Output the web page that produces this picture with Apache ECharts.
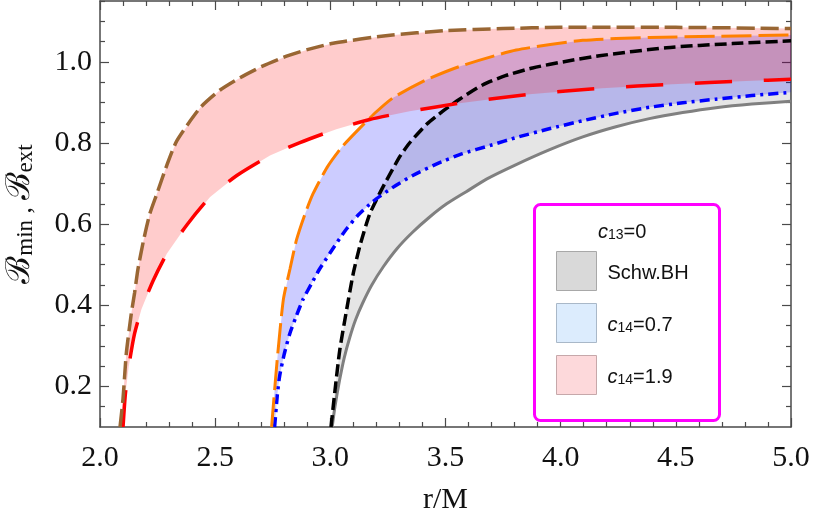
<!DOCTYPE html>
<html>
<head>
<meta charset="utf-8">
<script src="https://cdn.jsdelivr.net/npm/echarts@6/dist/echarts.min.js"></script>
<style>
  html, body { margin: 0; padding: 0; background: #fff; }
  #main { width: 814px; height: 529px; }
</style>
</head>
<body>
<div id="main"></div>
<script>
// curves, [r/M, B]
const schwUpper = [
  [3.003, 0.10], [3.019, 0.184], [3.041, 0.29], [3.071, 0.39], [3.10, 0.48], [3.13, 0.55],
  [3.171, 0.625], [3.227, 0.69], [3.30, 0.765], [3.344, 0.80], [3.418, 0.846], [3.487, 0.878],
  [3.561, 0.908], [3.661, 0.943], [3.76, 0.966], [3.878, 0.985], [4.02, 1.001], [4.168, 1.015],
  [4.459, 1.035], [4.745, 1.045], [5.0, 1.052]
];
const schwLower = [
  [3.008, 0.10], [3.02, 0.15], [3.04, 0.215], [3.06, 0.27], [3.084, 0.32], [3.11, 0.365],
  [3.14, 0.405], [3.18, 0.45], [3.23, 0.495], [3.29, 0.54], [3.357, 0.58], [3.43, 0.617],
  [3.505, 0.65], [3.59, 0.68], [3.678, 0.711], [3.80, 0.745], [3.95, 0.783], [4.096, 0.815],
  [4.24, 0.84], [4.385, 0.86], [4.53, 0.875], [4.674, 0.887], [4.83, 0.896], [5.0, 0.903]
];
const c07Upper = [
  [2.745, 0.10], [2.755, 0.17], [2.77, 0.27], [2.796, 0.414], [2.825, 0.49], [2.853, 0.561],
  [2.89, 0.625], [2.925, 0.675], [2.986, 0.74], [3.05, 0.79], [3.13, 0.838], [3.20, 0.877],
  [3.274, 0.912], [3.418, 0.956], [3.563, 0.989], [3.807, 1.029], [4.096, 1.053], [4.385, 1.06],
  [4.674, 1.063], [5.0, 1.066]
];
const c07Lower = [
  [2.758, 0.10], [2.77, 0.18], [2.78, 0.226], [2.80, 0.28], [2.824, 0.33], [2.85, 0.37],
  [2.881, 0.414], [2.92, 0.455], [2.954, 0.49], [3.0, 0.53], [3.041, 0.565], [3.07, 0.588],
  [3.12, 0.622], [3.185, 0.656], [3.27, 0.69], [3.358, 0.72], [3.46, 0.748], [3.57, 0.773],
  [3.70, 0.795], [3.81, 0.814], [3.95, 0.835], [4.096, 0.855], [4.24, 0.873], [4.385, 0.888],
  [4.53, 0.899], [4.674, 0.908], [4.83, 0.917], [5.0, 0.925]
];
const c19Upper = [
  [2.087, 0.10], [2.10, 0.17], [2.114, 0.28], [2.136, 0.38], [2.15, 0.43], [2.165, 0.49],
  [2.189, 0.56], [2.216, 0.625], [2.247, 0.675], [2.29, 0.745], [2.334, 0.806], [2.435, 0.887],
  [2.52, 0.93], [2.608, 0.961], [2.70, 0.988], [2.81, 1.014], [2.90, 1.03], [3.012, 1.046],
  [3.25, 1.065], [3.50, 1.077], [3.75, 1.082], [4.0, 1.085], [4.5, 1.085], [5.0, 1.082]
];
const c19Lower = [
  [2.10, 0.10], [2.11, 0.18], [2.125, 0.25], [2.15, 0.33], [2.18, 0.39], [2.23, 0.46],
  [2.29, 0.527], [2.377, 0.598], [2.478, 0.667], [2.594, 0.72], [2.738, 0.769], [2.868, 0.801],
  [3.026, 0.834], [3.171, 0.858], [3.344, 0.878], [3.561, 0.898], [3.865, 0.92], [4.18, 0.935],
  [4.485, 0.945], [4.806, 0.953], [5.0, 0.957]
];
const yMajorTicks = [0.2, 0.4, 0.6, 0.8, 1.0];
const yMinorTicks = [0.15, 0.25, 0.3, 0.35, 0.45, 0.5, 0.55, 0.65, 0.7, 0.75, 0.85, 0.9, 0.95, 1.05, 1.1, 1.15];
const legendNames = ["Schw.BH", "c14=0.7", "c14=1.9"];

const frame = "#4a4a4a";
const serif = "Liberation Serif";
const sans = "Liberation Sans";

function band(name, upper, lower, fill) {
  const poly = upper.concat(lower.slice().reverse());
  return {
    name: name,
    type: "custom",
    clip: true,
    silent: true,
    z: 1,
    data: poly,
    renderItem: function (params, api) {
      if (params.dataIndex !== 0) return null;
      return {
        type: "polygon",
        shape: { points: poly.map(p => api.coord(p)) },
        style: { fill: fill }
      };
    }
  };
}

function curve(data, color, dash, width) {
  return {
    type: "line",
    data: data,
    showSymbol: false,
    symbol: "none",
    smooth: 0.2,
    silent: true,
    clip: true,
    z: 3,
    lineStyle: { color: color, width: width, type: dash }
  };
}

function yAx(position, ticks, len, withLabels) {
  return {
    type: "value",
    min: 0.1,
    max: 1.15,
    position: position,
    axisLine: { show: withLabels !== null, onZero: false, lineStyle: { color: frame, width: 1.5 } },
    axisTick: { inside: true, length: len, customValues: ticks, lineStyle: { color: frame, width: 1.2 } },
    axisLabel: withLabels ? {
      customValues: ticks,
      fontFamily: serif,
      fontSize: 30,
      color: "#111",
      margin: 8,
      formatter: v => v.toFixed(1)
    } : { show: false },
    splitLine: { show: false }
  };
}

function xAx(position, withLabels) {
  return {
    type: "value",
    min: 2,
    max: 5,
    interval: 0.5,
    position: position,
    axisLine: { onZero: false, lineStyle: { color: frame, width: 1.5 } },
    axisTick: { inside: true, length: 9, lineStyle: { color: frame, width: 1.2 } },
    minorTick: { show: true, splitNumber: 5, length: 5, lineStyle: { color: frame, width: 1.2 } },
    axisLabel: withLabels ? {
      fontFamily: serif,
      fontSize: 30,
      color: "#111",
      margin: 16,
      formatter: v => v.toFixed(1)
    } : { show: false },
    splitLine: { show: false }
  };
}

const chart = echarts.init(document.getElementById("main"));

const xBottom = xAx("bottom", true);
xBottom.name = "r/M";
xBottom.nameLocation = "middle";
xBottom.nameGap = 58;
xBottom.nameTextStyle = { fontFamily: serif, fontSize: 30, color: "#111" };

const yLeft = yAx("left", yMajorTicks, 9, true);
yLeft.name = "{b|\u212C}{s|min}{t| , }{b|\u212C}{s|ext}";
yLeft.nameLocation = "middle";
yLeft.nameRotate = 90;
yLeft.nameGap = 63;
yLeft.nameTextStyle = {
  color: "#111",
  rich: {
    b: { fontFamily: "DejaVu Serif", fontSize: 33, lineHeight: 40, verticalAlign: "bottom", color: "#111" },
    s: { fontFamily: serif, fontSize: 23, lineHeight: 24, verticalAlign: "bottom", color: "#111" },
    t: { fontFamily: serif, fontSize: 26, lineHeight: 40, verticalAlign: "bottom", color: "#111" }
  }
};

const option = {
  backgroundColor: "#fff",
  animation: false,
  grid: { left: 100, right: 23, top: 1, bottom: 102, outerBoundsMode: "none" },
  xAxis: [xBottom, xAx("top", false)],
  yAxis: [
    yLeft,
    yAx("left", yMinorTicks, 5, null),
    yAx("right", yMajorTicks, 9, false),
    yAx("right", yMinorTicks, 5, null)
  ],
  legend: {
    data: [
      { name: legendNames[0], itemStyle: { color: "#d9d9d9", borderColor: "#a8a8a8", borderWidth: 1 } },
      { name: legendNames[1], itemStyle: { color: "#dcecfd", borderColor: "#a9b8c8", borderWidth: 1 } },
      { name: legendNames[2], itemStyle: { color: "#fdd9db", borderColor: "#c6a8aa", borderWidth: 1 } }
    ],
    orient: "vertical",
    left: 556,
    top: 251,
    padding: 0,
    itemWidth: 40,
    itemHeight: 39,
    itemGap: 12,
    icon: "rect",
    z: 12,
    selectedMode: false,
    formatter: function (n) {
      if (n === "Schw.BH") return "{p|Schw.BH}";
      return "{c|c}{s|14}{t|=" + n.split("=")[1] + "}";
    },
    textStyle: {
      rich: {
        p: { fontFamily: sans, fontSize: 20, lineHeight: 24, verticalAlign: "bottom", color: "#111", padding: [0, 0, 0, 6] },
        c: { fontFamily: sans, fontStyle: "italic", fontSize: 20, lineHeight: 24, verticalAlign: "bottom", color: "#111", padding: [0, 0, 0, 6] },
        s: { fontFamily: sans, fontSize: 14, lineHeight: 12, verticalAlign: "bottom", color: "#111" },
        t: { fontFamily: sans, fontSize: 20, lineHeight: 24, verticalAlign: "bottom", color: "#111" }
      }
    }
  },
  graphic: [
    {
      type: "rect",
      left: 533,
      top: 203,
      z: 10,
      shape: { width: 185, height: 216, r: 6 },
      style: { fill: "#fff", stroke: "#ff00ff", lineWidth: 3 }
    },
    {
      type: "text",
      left: 598,
      top: 222,
      z: 12,
      style: {
        text: "{c|c}{s|13}{t|=0}",
        rich: {
          c: { fontFamily: sans, fontStyle: "italic", fontSize: 20, lineHeight: 24, verticalAlign: "bottom", fill: "#111" },
          s: { fontFamily: sans, fontSize: 14, lineHeight: 12, verticalAlign: "bottom", fill: "#111" },
          t: { fontFamily: sans, fontSize: 20, lineHeight: 24, verticalAlign: "bottom", fill: "#111" }
        }
      }
    }
  ],
  series: [
    band(legendNames[0], schwUpper, schwLower, "rgba(0,0,0,0.1)"),
    band(legendNames[1], c07Upper, c07Lower, "rgba(0,0,255,0.2)"),
    band(legendNames[2], c19Upper, c19Lower, "rgba(255,0,0,0.2)"),
    curve(schwLower, "#808080", "solid", 3),
    curve(schwUpper, "#000000", [12, 5], 3.5),
    curve(c07Lower, "#0000ff", [10, 5, 3, 5], 3.5),
    curve(c07Upper, "#ff8000", [30, 7], 3),
    curve(c19Lower, "#ff0000", [37, 32], 3.5),
    curve(c19Upper, "#996633", [18, 6], 3.5)
  ]
};

chart.setOption(option);
</script>
</body>
</html>
